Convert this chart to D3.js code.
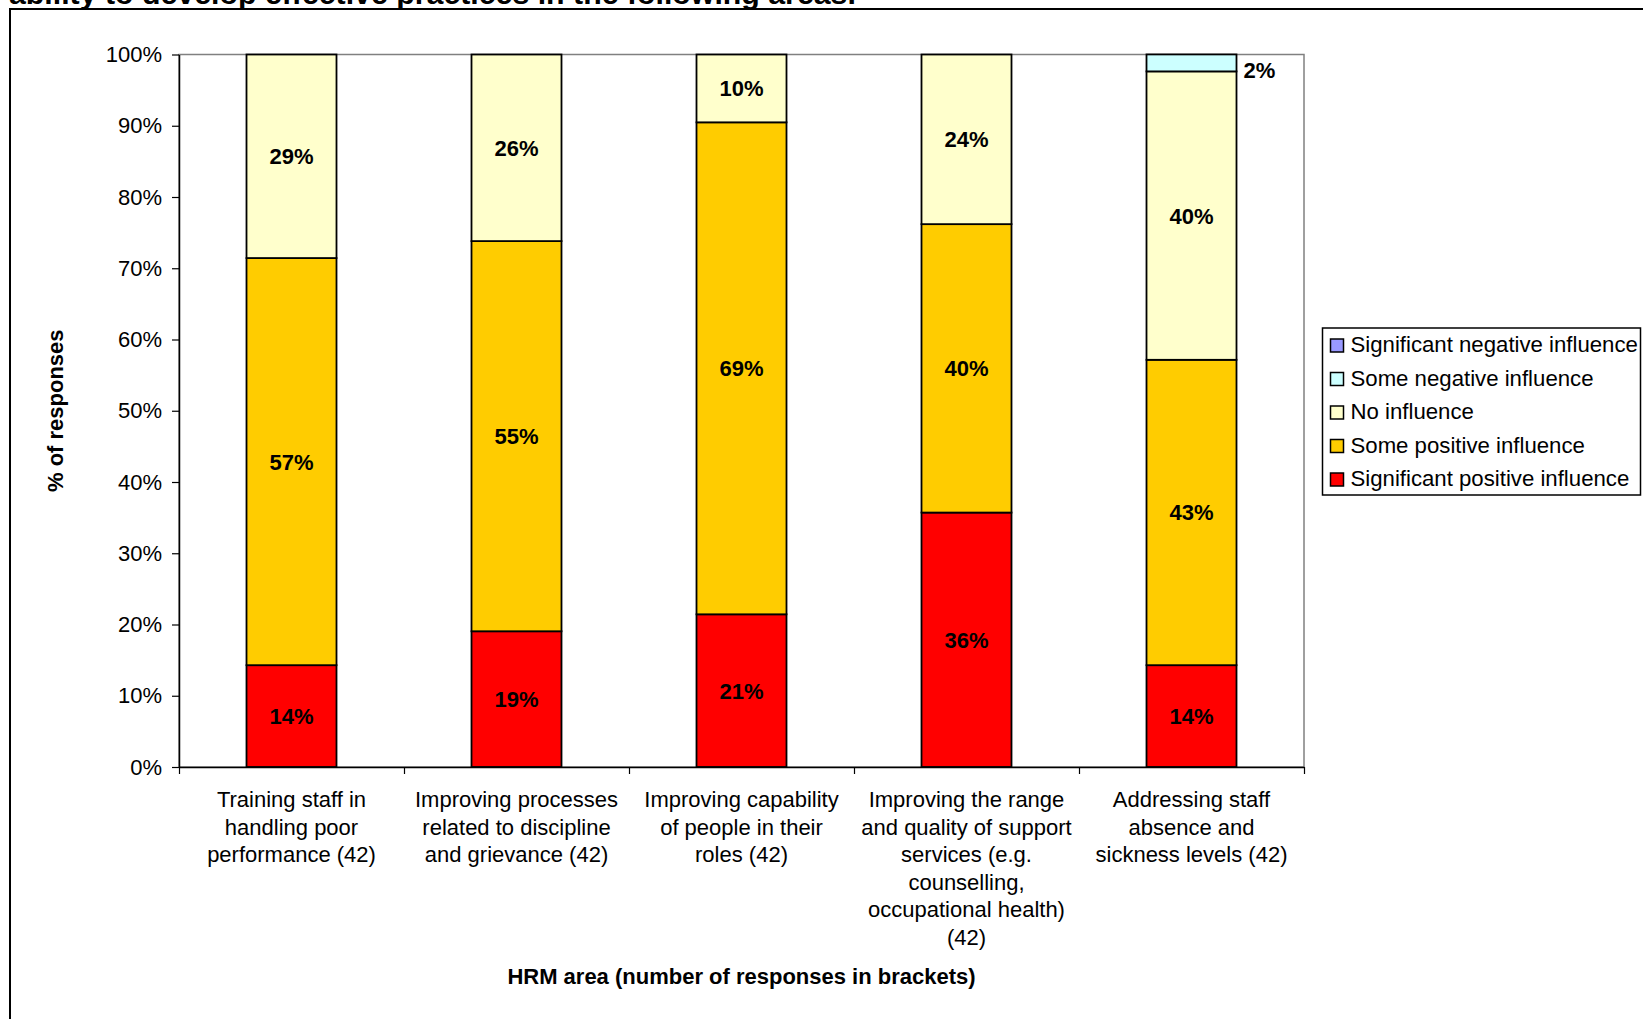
<!DOCTYPE html>
<html>
<head>
<meta charset="utf-8">
<script src="https://cdn.jsdelivr.net/npm/d3@7"></script>
<style>
  html, body { margin: 0; padding: 0; background: #fff; }
  svg { display: block; }
  text { font-family: "Liberation Sans", Arial, sans-serif; fill: #000; }
</style>
</head>
<body>
<svg id="chart" width="1643" height="1019"></svg>
<script>
// HRM areas (responses in brackets); "\n" marks label line breaks
const categories = [
  "Training staff in\nhandling poor\nperformance (42)",
  "Improving processes\nrelated to discipline\nand grievance (42)",
  "Improving capability\nof people in their\nroles (42)",
  "Improving the range\nand quality of support\nservices (e.g.\ncounselling,\noccupational health)\n(42)",
  "Addressing staff\nabsence and\nsickness levels (42)"
];

// Share of responses (%) per influence level, stacked bottom to top
const sigPositive  = [14.29, 19.05, 21.43, 35.71, 14.29];
const somePositive = [57.14, 54.76, 69.05, 40.48, 42.86];
const noInfluence  = [28.57, 26.19,  9.52, 23.81, 40.48];
const someNegative = [0, 0, 0, 0, 2.38];
const sigNegative  = [0, 0, 0, 0, 0];

const seriesNames = [
  "Significant positive influence",
  "Some positive influence",
  "No influence",
  "Some negative influence",
  "Significant negative influence"
];
const seriesColors = ["#FF0000", "#FFCC00", "#FFFFCC", "#CCFFFF", "#9999FF"];
const seriesValues = [sigPositive, somePositive, noInfluence, someNegative, sigNegative];

const yTicks = [0, 10, 20, 30, 40, 50, 60, 70, 80, 90, 100];

const titleText = "ability to develop effective practices in the following areas.";
const yTitle = "% of responses";
const xTitle = "HRM area (number of responses in brackets)";

// Build rows for d3.stack
const rows = categories.map((c, i) => {
  const r = { category: c };
  seriesNames.forEach((s, k) => { r[s] = seriesValues[k][i]; });
  return r;
});

const svg = d3.select("#chart");
const plot = { left: 179, right: 1304, top: 54.5, bottom: 767 };

// Outer frame and the heading line running along its top edge
svg.append("rect")
  .attr("x", 10).attr("y", 9).attr("width", 1700).attr("height", 1100)
  .attr("fill", "none").attr("stroke", "#000").attr("stroke-width", 2);
svg.append("text")
  .attr("x", 9).attr("y", 3.5)
  .attr("font-size", 30.3).attr("font-weight", "bold")
  .text(titleText);

const x = d3.scaleBand()
  .domain(categories)
  .range([plot.left, plot.right])
  .paddingInner(0.6)
  .paddingOuter(0.3);

const xEdges = d3.scaleLinear().domain([0, categories.length]).range([plot.left, plot.right]);

const y = d3.scaleLinear().domain([0, 100]).range([plot.bottom, plot.top]);

// Plot area border
svg.append("rect")
  .attr("x", plot.left).attr("y", y(100))
  .attr("width", plot.right - plot.left).attr("height", y(0) - y(100))
  .attr("fill", "none").attr("stroke", "#808080").attr("stroke-width", 1.5);

// Stacked bars
const stacked = d3.stack().keys(seriesNames)(rows);

const layers = svg.append("g").selectAll("g")
  .data(stacked)
  .join("g")
  .attr("fill", (d, k) => seriesColors[k]);

layers.selectAll("rect")
  .data(d => d.filter(p => p[1] - p[0] > 0))
  .join("rect")
  .attr("x", d => x(d.data.category))
  .attr("width", x.bandwidth())
  .attr("y", d => y(d[1]))
  .attr("height", d => y(d[0]) - y(d[1]))
  .attr("stroke", "#000")
  .attr("stroke-width", 1.8);

// Value labels
const fmt = v => Math.round(v) + "%";
const labelG = svg.append("g");
stacked.forEach(layer => {
  layer.forEach(p => {
    const v = p[1] - p[0];
    if (v <= 0) return;
    const mid = y((p[0] + p[1]) / 2);
    const small = v < 5;
    labelG.append("text")
      .attr("x", small ? x(p.data.category) + x.bandwidth() + 7 : x(p.data.category) + x.bandwidth() / 2)
      .attr("y", small ? mid + 15 : mid + 8)
      .attr("text-anchor", small ? "start" : "middle")
      .attr("font-size", 22).attr("font-weight", "bold")
      .text(fmt(v));
  });
});

// Y axis
const yAxis = svg.append("g")
  .attr("transform", `translate(${plot.left},0)`)
  .call(d3.axisLeft(y).tickValues(yTicks).tickFormat(d => d + "%").tickSize(7).tickSizeOuter(0).tickPadding(10));
yAxis.select(".domain").attr("stroke", "#000").attr("stroke-width", 1.5);
yAxis.selectAll(".tick line").attr("stroke", "#000").attr("stroke-width", 1.2);
yAxis.selectAll(".tick text")
  .attr("font-size", 22).attr("font-family", "'Liberation Sans', Arial, sans-serif").attr("fill", "#000");

// X axis with ticks at category boundaries
const xAxis = svg.append("g")
  .attr("transform", `translate(0,${plot.bottom})`)
  .call(d3.axisBottom(xEdges).tickValues(d3.range(categories.length + 1)).tickFormat("").tickSize(7).tickSizeOuter(0));
xAxis.select(".domain").attr("stroke", "#000").attr("stroke-width", 1.5);
xAxis.selectAll(".tick line").attr("stroke", "#000").attr("stroke-width", 1.2);

// Category labels
const catG = svg.append("g");
categories.forEach(c => {
  const t = catG.append("text")
    .attr("text-anchor", "middle")
    .attr("font-size", 22);
  c.split("\n").forEach((line, li) => {
    t.append("tspan")
      .attr("x", x(c) + x.bandwidth() / 2)
      .attr("y", 807 + li * 27.6)
      .text(line);
  });
});

// Axis titles
svg.append("text")
  .attr("x", (plot.left + plot.right) / 2).attr("y", 984)
  .attr("text-anchor", "middle")
  .attr("font-size", 22).attr("font-weight", "bold")
  .text(xTitle);

svg.append("text")
  .attr("transform", `translate(63,${(plot.top + plot.bottom) / 2}) rotate(-90)`)
  .attr("text-anchor", "middle")
  .attr("font-size", 22).attr("font-weight", "bold")
  .text(yTitle);

// Legend (top entry is the last stacked series)
const legend = svg.append("g");
legend.append("rect")
  .attr("x", 1322.5).attr("y", 328).attr("width", 318).attr("height", 167)
  .attr("fill", "#fff").attr("stroke", "#000").attr("stroke-width", 1.5);
const legendOrder = d3.range(seriesNames.length).reverse();
legendOrder.forEach((k, i) => {
  const base = 352 + i * 33.5;
  legend.append("rect")
    .attr("x", 1330.5).attr("y", base - 13).attr("width", 13).attr("height", 13)
    .attr("fill", seriesColors[k]).attr("stroke", "#000").attr("stroke-width", 1.5);
  legend.append("text")
    .attr("x", 1350.5).attr("y", base)
    .attr("font-size", 22.2)
    .text(seriesNames[k]);
});
</script>
</body>
</html>
